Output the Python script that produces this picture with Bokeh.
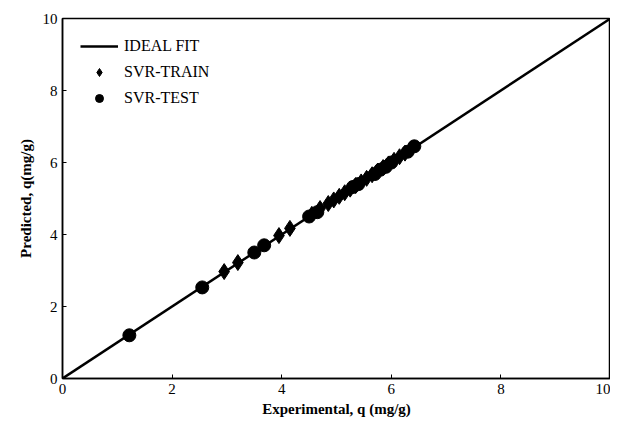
from bokeh.plotting import figure
from bokeh.models import Legend, LegendItem, Range1d
from bokeh.embed import file_html
from bokeh.resources import INLINE

ideal_x = [0, 10]
ideal_y = [0, 10]
train_x = [2.95, 3.2, 3.95, 4.15, 4.55, 4.7, 4.85, 4.95, 5.05, 5.15, 5.25, 5.35, 5.45, 5.55, 5.65, 5.75, 5.85, 5.95, 6.05, 6.15, 6.25, 6.35]
train_y = [2.97, 3.22, 3.97, 4.17, 4.56, 4.72, 4.86, 4.96, 5.06, 5.16, 5.26, 5.36, 5.46, 5.56, 5.66, 5.76, 5.86, 5.96, 6.06, 6.16, 6.26, 6.36]
test_x = [1.22, 2.55, 3.5, 3.68, 4.5, 4.65, 5.3, 5.4, 5.7, 5.8, 5.9, 6.0, 6.3, 6.42]
test_y = [1.2, 2.53, 3.5, 3.7, 4.5, 4.62, 5.32, 5.4, 5.68, 5.8, 5.88, 6.0, 6.3, 6.45]

serif = "Liberation Serif"
p = figure(width=610, height=419, output_backend="svg", toolbar_location=None,
           x_range=Range1d(0, 10), y_range=Range1d(0, 10),
           min_border_left=62, min_border_right=0, min_border_top=18, min_border_bottom=30)
p.grid.visible = False
p.outline_line_color = "black"
p.outline_line_width = 1.5

l1 = p.line(ideal_x, ideal_y, line_color="black", line_width=2.5)
l2 = p.scatter(train_x, train_y, marker="diamond", size=16, color="black")
l3 = p.scatter(test_x, test_y, marker="circle", size=13, color="black")

for ax in (p.xaxis[0], p.yaxis[0]):
    ax.axis_line_width = 1.5
    ax.major_label_text_font = serif
    ax.major_label_text_font_size = "15px"
    ax.major_label_text_color = "black"
    ax.axis_label_text_font = serif
    ax.axis_label_text_font_size = "15px"
    ax.axis_label_text_font_style = "bold"
    ax.axis_label_text_color = "black"
    ax.minor_tick_line_color = None
    ax.major_tick_in = 4
    ax.major_tick_out = 0
p.xaxis.ticker = [0, 2, 4, 6, 8, 10]
p.yaxis.ticker = [0, 2, 4, 6, 8, 10]
p.xaxis.axis_label = "Experimental, q (mg/g)"
p.yaxis.axis_label = "Predicted, q(mg/g)"
p.xaxis.axis_label_standoff = 4
p.yaxis.axis_label_standoff = 6

legend = Legend(items=[LegendItem(label="IDEAL FIT", renderers=[l1]),
                       LegendItem(label="SVR-TRAIN", renderers=[l2]),
                       LegendItem(label="SVR-TEST", renderers=[l3])],
                location="top_left", border_line_color=None, background_fill_alpha=0,
                label_text_font=serif, label_text_font_size="16px", label_text_color="black",
                glyph_width=38, spacing=6, margin=18, padding=20, label_standoff=6)
p.add_layout(legend)

open("out.html", "w").write(file_html(p, INLINE))
